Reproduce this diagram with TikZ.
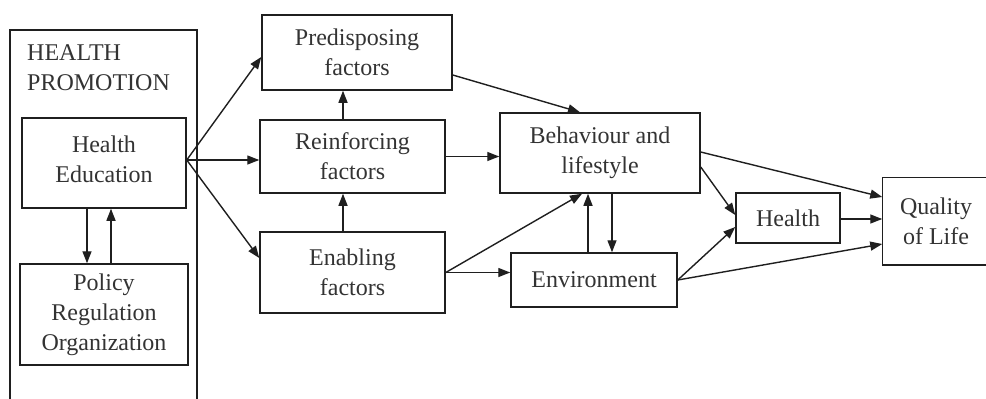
\documentclass[tikz,border=0pt]{standalone}
\usepackage{fontspec}
\setmainfont{Liberation Serif}
\usetikzlibrary{arrows.meta,calc}
\definecolor{ink}{gray}{0.12}
\definecolor{txt}{gray}{0.2}
\begin{document}
\begin{tikzpicture}[x=1pt,y=-1pt,
  box/.style={draw=ink,line width=1.5pt,rectangle,inner sep=0pt,align=center,
    text=txt,font=\fontsize{24}{30}\selectfont},
  arr/.style={draw=ink,line width=1.4pt,-{Triangle[length=12pt,width=9pt]}},
  lbl/.style={text=txt,font=\fontsize{24}{30}\selectfont,inner sep=0pt,align=left}]
\clip (0,0) rectangle (986,399);
\fill[white] (0,0) rectangle (986,399);
% outer health promotion frame (open at bottom)
\draw[ink,line width=1.5pt] (10,410) -- (10,30) -- (197,30) -- (197,410);
\node[lbl,anchor=west] (hp) at (27,68) {HEALTH\\PROMOTION};
% boxes
\node[box,minimum width=164pt,minimum height=90pt] (he) at (104,163) {};
\node[box,draw=none,text=txt] (het) at (104,159) {Health\\Education};
\node[box,minimum width=168pt,minimum height=101pt] (pol) at (104,314.5) {Policy\\Regulation\\Organization};
\node[box,minimum width=190pt,minimum height=75pt] (pre) at (357,52.5) {Predisposing\\factors};
\node[box,minimum width=185pt,minimum height=73pt] (rei) at (352.5,156.5) {Reinforcing\\factors};
\node[box,minimum width=185pt,minimum height=81pt] (ena) at (352.5,272.5) {Enabling\\factors};
\node[box,minimum width=200pt,minimum height=80pt] (beh) at (600,153) {Behaviour and\\lifestyle};
\node[box,minimum width=166pt,minimum height=54pt] (env) at (594,280) {Environment};
\node[box,minimum width=104pt,minimum height=50pt] (hea) at (788,218) {Health};
\node[box,draw=none,minimum width=106pt,minimum height=86pt] (qol) at (936,221) {Quality\\of Life};
\draw[ink,line width=1.5pt] ([xshift=10pt]qol.north east) -- (qol.north west) -- (qol.south west) -- ([xshift=10pt]qol.south east);
% connectors
\coordinate (fork) at ([yshift=3pt]he.east);
\draw[arr] ([xshift=-17pt]he.south) -- ([xshift=-17pt]pol.north);
\draw[arr] ([xshift=7pt]pol.north) -- ([xshift=7pt]he.south);
\draw[arr] (fork) -- ([yshift=-4.5pt]pre.west);
\draw[arr] (fork) -- (fork -| rei.west);
\draw[arr] (fork) -- ([yshift=14.5pt]ena.west);
\draw[arr] ([xshift=-9.5pt]ena.north) -- ([xshift=-9.5pt]rei.south);
\draw[arr] ([xshift=-9.5pt]rei.north) -- ([xshift=-9.5pt]rei.north |- pre.south);
\draw[arr] ([yshift=-22.5pt]pre.east) -- ([xshift=-20pt]beh.north);
\draw[arr] (rei.east) -- (rei.east -| beh.west);
\draw[arr] (ena.east) -- ([xshift=-18pt]beh.south);
\draw[arr] (ena.east) -- (ena.east -| env.west);
\draw[arr] ([xshift=-6pt]env.north) -- ([xshift=-6pt]env.north |- beh.south);
\draw[arr] ([xshift=12pt]beh.south) -- ([xshift=12pt]beh.south |- env.north);
\draw[arr] ([yshift=1pt]beh.east) -- ([yshift=24pt]qol.west);
\draw[arr] ([yshift=-14pt]beh.east) -- ([yshift=3pt]hea.west);
\draw[arr] (env.east) -- ([yshift=-9pt]hea.west);
\draw[arr] (env.east) -- ([yshift=-23pt]qol.west);
\draw[arr] ([yshift=-1pt]hea.east) -- ([yshift=-1pt]hea.east -| qol.west);
\end{tikzpicture}
\end{document}
